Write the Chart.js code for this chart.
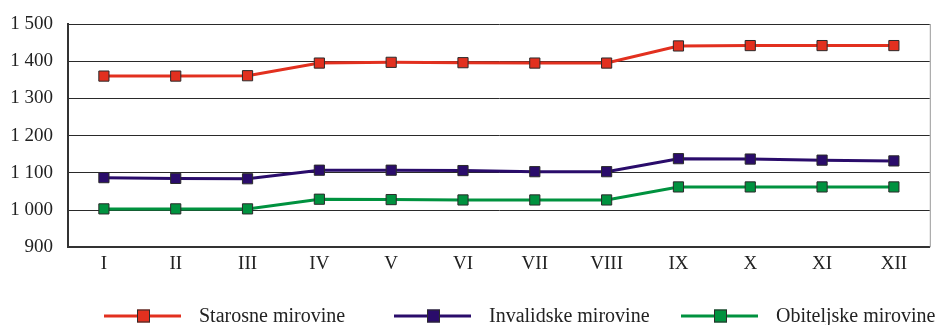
<!DOCTYPE html>
<html>
<head>
<meta charset="utf-8">
<script src="https://cdn.jsdelivr.net/npm/chart.js@4/dist/chart.umd.min.js"></script>
<style>
  html, body { margin: 0; padding: 0; background: #fff; }
  #wrap { width: 938px; height: 325px; }
</style>
</head>
<body>
<div id="wrap"><canvas id="lineChart"></canvas></div>
<script>
const months = ["I", "II", "III", "IV", "V", "VI", "VII", "VIII", "IX", "X", "XI", "XII"];
const starosne = [1360, 1360, 1361, 1395, 1397, 1396, 1395, 1395, 1441, 1442, 1442, 1442];
const invalidske = [1087, 1085, 1084, 1107, 1107, 1106, 1103, 1103, 1138, 1137, 1134, 1132];
const obiteljske = [1003, 1003, 1003, 1029, 1028, 1027, 1027, 1027, 1062, 1062, 1062, 1062];
const seriesNames = ["Starosne mirovine", "Invalidske mirovine", "Obiteljske mirovine"];

const fontFamily = "'Liberation Serif', 'DejaVu Serif', serif";

function makeSet(label, data, color) {
    return {
        label: label,
        data: data,
        borderColor: color,
        backgroundColor: color,
        borderWidth: 3,
        pointStyle: "rect",
        pointRadius: 7.2,
        pointHoverRadius: 7.2,
        pointBorderColor: "#2b2b2b",
        pointBorderWidth: 1,
        tension: 0,
    };
}

// frame on the right side + legend drawn under the chart
const extras = {
    id: "extras",
    afterDraw(chart) {
        const ctx = chart.ctx;
        const area = chart.chartArea;
        ctx.save();
        ctx.strokeStyle = "#999";
        ctx.lineWidth = 1;
        ctx.beginPath();
        ctx.moveTo(area.right + 0.5, area.top);
        ctx.lineTo(area.right + 0.5, area.bottom);
        ctx.stroke();

        const starts = [104, 394, 681];
        const y = 316;
        ctx.font = "20px " + fontFamily;
        ctx.textBaseline = "middle";
        chart.data.datasets.forEach((ds, i) => {
            const x = starts[i];
            ctx.strokeStyle = ds.borderColor;
            ctx.lineWidth = 3;
            ctx.beginPath();
            ctx.moveTo(x, y);
            ctx.lineTo(x + 77, y);
            ctx.stroke();
            ctx.fillStyle = ds.backgroundColor;
            ctx.fillRect(x + 33, y - 6.5, 13, 13);
            ctx.strokeStyle = "#2b2b2b";
            ctx.lineWidth = 1;
            ctx.strokeRect(x + 33.5, y - 6, 12, 12);
            ctx.fillStyle = "#222";
            ctx.fillText(ds.label, x + 95, y + 1);
        });
        ctx.restore();
    }
};

const canvas = document.getElementById("lineChart");
const ctx = canvas.getContext("2d");

new Chart(ctx, {
    type: "line",
    data: {
        labels: months,
        datasets: [
            makeSet(seriesNames[0], starosne, "#e2301f"),
            makeSet(seriesNames[1], invalidske, "#2a0c6b"),
            makeSet(seriesNames[2], obiteljske, "#00923f"),
        ],
    },
    options: {
        responsive: true,
        maintainAspectRatio: false,
        animation: false,
        layout: {
            padding: { top: 24, right: 8, bottom: 45, left: 10 },
        },
        plugins: {
            legend: { display: false },
            tooltip: { enabled: false },
        },
        scales: {
            x: {
                offset: true,
                grid: { display: false, drawTicks: false },
                border: { display: true, color: "#333", width: 2 },
                ticks: {
                    color: "#222",
                    padding: 5,
                    font: { family: fontFamily, size: 19 },
                },
            },
            y: {
                min: 900,
                max: 1500,
                afterFit: function (scale) {
                    scale.width = 58;
                    scale.paddingTop = 0;
                    scale.paddingBottom = 0;
                },
                grid: { color: "#2a2a2a", lineWidth: 1, drawTicks: false },
                border: { display: true, color: "#333", width: 2 },
                ticks: {
                    stepSize: 100,
                    color: "#222",
                    padding: 15,
                    font: { family: fontFamily, size: 19 },
                    callback: function (value) {
                        return String(value).replace(/\B(?=(\d{3})+(?!\d))/g, " ");
                    },
                },
            },
        },
    },
    plugins: [extras],
});
</script>
</body>
</html>
